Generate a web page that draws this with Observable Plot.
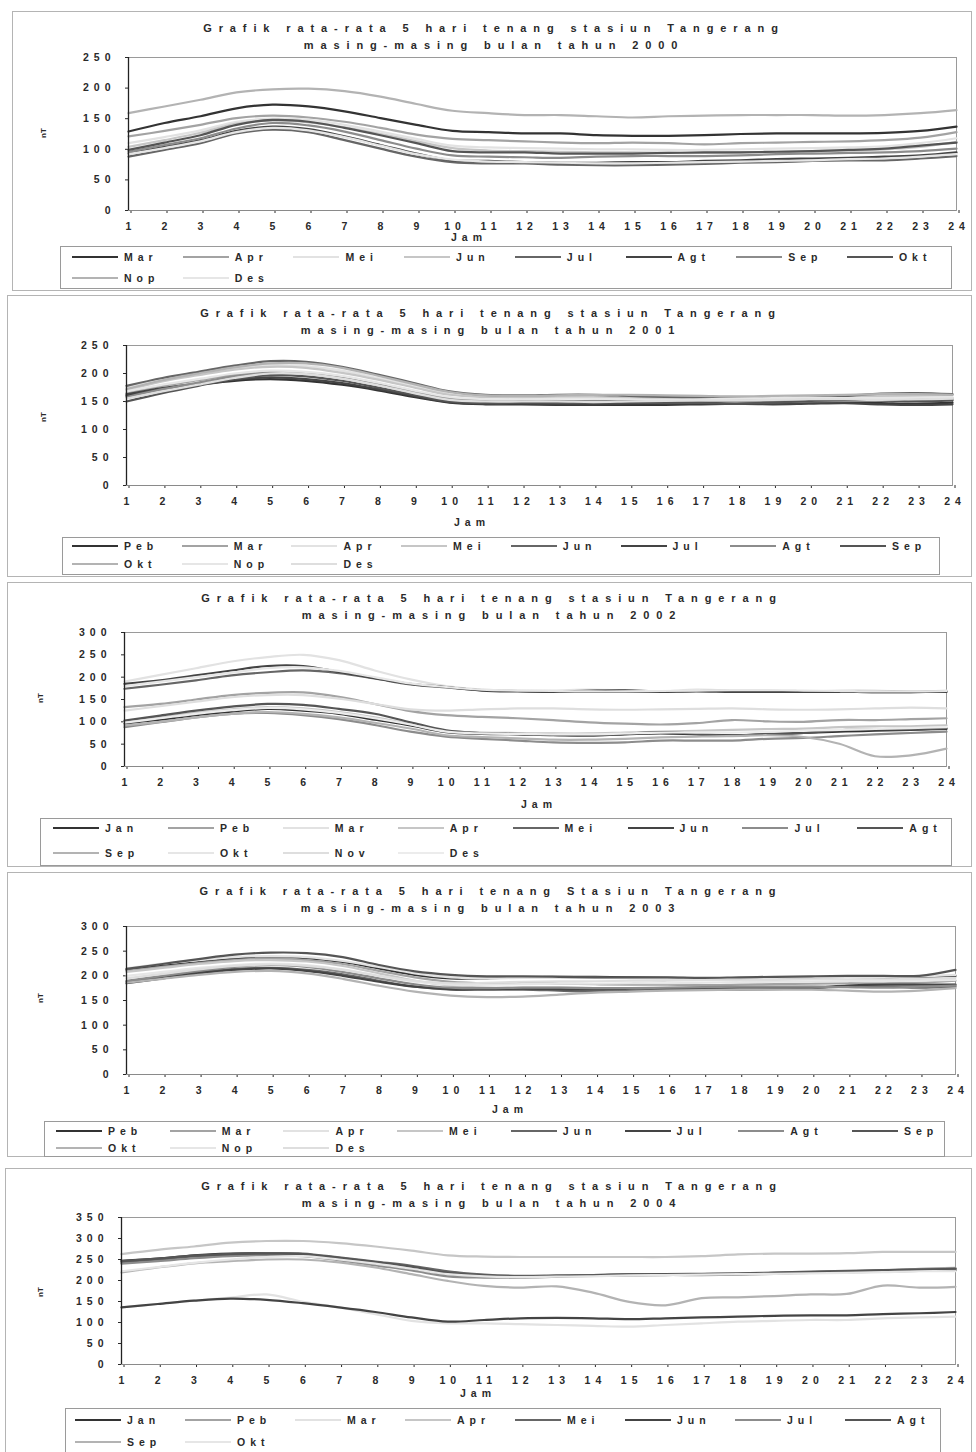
<!DOCTYPE html>
<html><head><meta charset="utf-8">
<script src="https://cdn.jsdelivr.net/npm/d3@7"></script>
<script src="https://cdn.jsdelivr.net/npm/@observablehq/plot@0.6"></script>
<style>
body{margin:0;background:#fff;}
#page{position:relative;width:976px;height:1452px;overflow:hidden;font-family:"Liberation Sans",Arial,sans-serif;color:#2a2a2a;}
.frame{position:absolute;border:1px solid #b4b4b4;box-sizing:border-box;}
.lbox{position:absolute;border:1px solid #9a9a9a;box-sizing:border-box;}
.title{position:absolute;font-weight:bold;font-size:11px;letter-spacing:6.9px;white-space:nowrap;transform:translateX(-50%);line-height:14px;}
.txt{position:absolute;font-weight:bold;font-size:10.5px;letter-spacing:5px;white-space:nowrap;line-height:14px;}
.nt{position:absolute;font-size:8px;font-weight:bold;transform:translate(-50%,-50%) rotate(-90deg);white-space:nowrap;}
.lline{position:absolute;height:2px;}
svg{position:absolute;left:0;}
</style>
</head><body><div id="page"></div>
<script>
const hours = [1,2,3,4,5,6,7,8,9,10,11,12,13,14,15,16,17,18,19,20,21,22,23,24];

// ---- 2000 ----
const months2000 = ["Mar","Apr","Mei","Jun","Jul","Agt","Sep","Okt","Nop","Des"];
const values2000 = [
 [129,143,154,167,173,170,162,151,140,130,128,126,126,123,122,122,123,125,126,126,126,127,130,137],
 [121,130,140,151,155,152,145,135,124,117,115,113,111,110,111,110,108,110,111,112,113,115,119,128],
 [110,120,131,145,150,148,140,129,117,106,103,102,101,100,100,99,99,100,101,102,103,105,110,118],
 [104,115,127,142,147,144,136,125,113,102,98,97,96,95,95,94,94,95,96,97,98,100,104,112],
 [88,99,110,126,132,128,115,101,88,79,77,77,75,74,74,75,76,78,79,81,82,82,85,89],
 [93,104,115,130,137,133,121,107,93,82,81,79,78,78,79,79,81,82,84,85,86,88,90,95],
 [96,107,118,134,143,139,129,115,101,90,88,87,86,88,89,89,89,90,92,93,94,95,97,101],
 [99,111,123,140,148,145,135,123,110,97,95,95,93,93,93,94,95,95,96,97,99,101,106,111],
 [159,170,181,193,198,199,195,186,174,163,159,156,156,154,152,154,155,156,156,156,155,156,159,164],
 [92,102,113,128,135,131,120,106,92,83,80,79,78,77,77,78,79,80,81,82,84,85,88,92]
];

// ---- 2001 ----
const months2001 = ["Peb","Mar","Apr","Mei","Jun","Jul","Agt","Sep","Okt","Nop","Des"];
const values2001 = [
 [160,172,180,187,190,187,180,170,158,148,145,145,144,144,144,144,145,146,147,148,148,147,146,148],
 [165,178,188,197,202,200,192,180,168,156,153,152,151,150,150,150,151,152,153,153,152,152,154,156],
 [175,190,200,210,215,213,205,192,178,165,160,158,157,157,156,156,156,157,158,159,160,160,160,162],
 [170,186,197,207,212,210,201,189,175,162,158,157,158,158,157,157,158,158,157,157,158,159,160,161],
 [178,192,203,214,222,221,212,198,183,168,162,161,162,162,160,158,157,156,156,158,160,164,165,163],
 [163,174,182,189,193,190,183,172,160,149,146,146,145,145,146,147,148,146,145,146,147,145,144,145],
 [158,172,184,195,202,200,192,180,166,154,150,150,150,151,152,152,152,150,149,150,151,152,152,153],
 [150,165,178,190,197,195,187,175,162,150,147,148,148,148,148,147,147,146,148,151,153,152,150,152],
 [172,188,200,211,218,218,210,196,181,167,161,160,161,162,162,161,160,159,160,161,162,163,163,162],
 [168,180,190,200,205,203,196,184,170,158,154,154,155,155,154,153,154,155,156,157,156,156,157,158],
 [155,168,180,192,200,199,191,179,165,153,150,150,150,149,150,151,152,152,153,154,154,153,154,155]
];

// ---- 2002 ----
const months2002 = ["Jan","Peb","Mar","Apr","Mei","Jun","Jul","Agt","Sep","Okt","Nov","Des"];
const values2002 = [
 [96,105,115,123,129,125,118,105,92,77,73,72,70,70,72,74,72,70,72,75,78,80,82,84],
 [133,140,150,160,165,166,156,140,124,115,111,108,104,99,96,94,97,104,101,100,104,104,106,108],
 [190,205,220,235,245,250,238,215,195,180,172,170,170,172,170,168,172,170,170,168,170,170,168,170],
 [100,110,120,128,133,130,122,110,95,80,76,75,74,74,76,78,80,82,84,85,88,90,90,92],
 [174,183,193,204,211,215,209,197,184,177,171,169,168,170,171,168,169,170,168,168,168,166,166,168],
 [185,193,204,215,225,225,212,198,185,178,170,168,167,167,167,167,168,167,167,167,167,167,167,167],
 [88,99,110,118,120,115,106,93,78,67,62,58,54,53,54,58,58,58,62,64,68,72,75,78],
 [103,114,125,134,140,138,129,118,99,81,75,73,71,69,73,77,73,69,73,75,81,83,83,86],
 [92,100,110,118,122,118,110,98,85,70,66,63,60,60,62,65,67,68,70,66,51,23,25,40],
 [180,190,200,210,220,222,214,200,186,178,172,170,169,168,168,169,170,171,171,170,169,168,168,169],
 [125,135,145,155,160,160,152,140,128,125,128,130,130,128,127,128,129,130,128,127,128,130,132,130],
 [98,108,118,126,131,128,120,108,94,78,74,73,72,72,74,76,76,76,78,80,82,84,86,88]
];

// ---- 2003 ----
const months2003 = ["Peb","Mar","Apr","Mei","Jun","Jul","Agt","Sep","Okt","Nop","Des"];
const values2003 = [
 [212,220,228,235,238,236,228,215,202,195,195,197,198,198,197,196,195,195,196,197,198,197,196,200],
 [210,218,226,232,235,232,224,210,197,188,185,185,184,183,182,182,181,182,183,184,185,185,186,190],
 [215,225,232,238,240,238,230,218,205,197,195,196,196,196,195,194,194,195,196,197,198,198,199,202],
 [208,216,224,230,232,229,220,205,190,180,176,176,176,175,175,175,175,176,177,178,178,178,179,182],
 [188,198,207,214,216,212,203,190,178,172,172,172,170,168,170,172,172,172,173,175,178,178,176,178],
 [185,195,205,212,215,210,200,188,178,173,173,174,173,172,174,175,175,176,176,176,180,182,182,182],
 [190,200,210,218,222,218,208,195,183,176,175,176,176,175,175,176,177,178,178,178,177,176,178,180],
 [214,224,234,243,247,246,238,222,209,202,199,199,198,197,197,197,196,197,198,199,200,200,200,212],
 [186,194,202,208,210,205,194,180,168,160,157,158,162,166,168,170,171,172,172,172,170,168,170,175],
 [200,208,216,222,225,222,213,200,188,182,182,183,184,184,185,185,186,187,188,188,189,189,190,192],
 [195,204,213,220,223,220,212,200,190,185,186,188,189,189,190,190,191,191,192,193,193,193,194,196]
];

// ---- 2004 ----
const months2004 = ["Jan","Peb","Mar","Apr","Mei","Jun","Jul","Agt","Sep","Okt"];
const values2004 = [
 [247,252,260,264,265,262,250,238,227,215,211,210,211,213,214,214,214,215,217,219,220,222,225,225],
 [242,248,256,261,263,262,252,242,232,220,213,210,210,212,213,214,215,216,218,220,221,224,228,230],
 [136,144,152,159,167,149,136,120,104,98,98,96,94,92,90,94,98,102,104,106,106,110,112,114],
 [263,273,281,290,294,294,289,281,271,260,257,256,256,256,256,256,258,262,264,264,265,268,268,268],
 [244,250,258,263,265,264,255,245,235,222,214,211,212,213,215,215,216,217,219,221,223,225,226,228],
 [136,144,152,157,154,146,136,125,112,102,106,110,111,110,108,110,112,114,116,117,117,120,122,125],
 [240,246,253,258,260,258,248,236,224,210,207,207,209,211,212,213,213,214,216,218,219,221,223,224],
 [246,252,259,263,264,263,254,244,233,218,212,209,210,212,214,215,215,216,218,220,222,224,226,228],
 [219,231,241,246,250,250,243,231,215,199,187,183,186,171,149,141,158,160,163,167,168,188,183,185],
 [222,232,242,250,256,258,250,240,228,215,210,208,209,210,212,213,214,215,216,217,218,220,222,222]
];

// Excel default series colours as they appear after greyscale scanning
const seriesGreys = ["#333333","#a3a3a3","#e2e2e2","#c6c6c6","#666666","#444444","#8c8c8c","#555555","#b3b3b3","#e6e6e6","#dedede","#ececec"];

const titleA = "Grafik rata-rata 5 hari tenang stasiun Tangerang";
const titleB = "Grafik rata-rata 5 hari tenang Stasiun Tangerang";

const panels = [
 {year:"2000", t:titleA, months:months2000, values:values2000, yMax:250,
  L:128, R:956, T:57, B:210, frame:[12,11,972,291], tx:494, ty:[28,45], jam:[463,237], nt:[43,133],
  lg:{box:[60,246,952,289], x0:72, pitch:110.7, rows:[257,278]}},
 {year:"2001", t:titleA, months:months2001, values:values2001, yMax:250,
  L:126, R:952, T:345, B:485, frame:[7,295,972,577], tx:491, ty:[313,330], jam:[466,522], nt:[43,417],
  lg:{box:[62,537,940,575], x0:72, pitch:109.7, rows:[546,564]}},
 {year:"2002", t:titleA, months:months2002, values:values2002, yMax:300,
  L:124, R:946, T:632, B:766, frame:[7,582,972,867], tx:492, ty:[598,615], jam:[533,804], nt:[40,698],
  lg:{box:[40,818,952,866], x0:53, pitch:114.9, rows:[828,853]}},
 {year:"2003", t:titleB, months:months2003, values:values2003, yMax:300,
  L:126, R:955, T:926, B:1074, frame:[7,872,972,1157], tx:491, ty:[891,908], jam:[504,1109], nt:[40,998],
  lg:{box:[44,1121,945,1157], x0:56, pitch:113.7, rows:[1131,1148]}},
 {year:"2004", t:titleA, months:months2004, values:values2004, yMax:350,
  L:121, R:955, T:1217, B:1364, frame:[5,1168,972,1460], tx:492, ty:[1186,1203], jam:[472,1393], nt:[40,1292],
  lg:{box:[65,1408,941,1460], x0:75, pitch:110, rows:[1420,1442]}}
];

const page = document.getElementById("page");
function el(cls, css, text){
  const d = document.createElement("div");
  d.className = cls;
  Object.assign(d.style, css);
  if (text != null) d.textContent = text;
  page.appendChild(d);
  return d;
}

for (const p of panels) {
  const [fx0,fy0,fx1,fy1] = p.frame;
  el("frame", {left:fx0+"px", top:fy0+"px", width:(fx1-fx0)+"px", height:(fy1-fy0)+"px"});
  el("title", {left:p.tx+"px", top:(p.ty[0]-7)+"px"}, p.t);
  el("title", {left:p.tx+"px", top:(p.ty[1]-7)+"px"}, "masing-masing bulan tahun " + p.year);

  const data = p.months.flatMap((m,i) => p.values[i].map((v,j) => ({jam: hours[j], nT: v, bulan: m})));
  const yTicks = d3.range(0, p.yMax + 1, 50);
  const mt = 6, mb = 30;
  const svg = Plot.plot({
    width: 976,
    height: mt + (p.B - p.T) + mb,
    marginTop: mt, marginBottom: mb, marginLeft: p.L, marginRight: 976 - p.R,
    style: {fontFamily: "'Liberation Sans', Arial, sans-serif", fontSize: "10.5px", fontWeight: "bold", letterSpacing: "5px", color: "#2a2a2a", background: "transparent", overflow: "visible"},
    x: {domain: [1, 24]},
    y: {domain: [0, p.yMax]},
    color: {domain: p.months, range: seriesGreys.slice(0, p.months.length)},
    marks: [
      Plot.frame({stroke: "#9a9a9a"}),
      Plot.axisX({ticks: hours, tickSize: 3, tickPadding: 9, tickFormat: d => String(d), label: null, dx: 2.5}),
      Plot.axisY({ticks: yTicks, tickSize: 3, tickPadding: 10, tickFormat: d => String(d), label: null}),
      Plot.lineY(data, {x: "jam", y: "nT", z: "bulan", stroke: "bulan", strokeWidth: 2.2, curve: "catmull-rom"}),
      Plot.ruleY([0], {stroke: "#8a8a8a", strokeWidth: 1.2}),
      Plot.ruleX([1], {stroke: "#222", strokeWidth: 1.3})
    ]
  });
  svg.style.top = (p.T - mt) + "px";
  page.appendChild(svg);

  el("txt", {left:(p.jam[0]-12)+"px", top:(p.jam[1]-7)+"px"}, "Jam");
  el("nt", {left:p.nt[0]+"px", top:p.nt[1]+"px"}, "nT");

  const [bx0,by0,bx1,by1] = p.lg.box;
  el("lbox", {left:bx0+"px", top:by0+"px", width:(bx1-bx0)+"px", height:(by1-by0)+"px"});
  p.months.forEach((m,i) => {
    const row = Math.floor(i / 8), col = i % 8;
    const x = p.lg.x0 + col * p.lg.pitch;
    const y = p.lg.rows[row];
    el("lline", {left:x+"px", top:(y-1)+"px", width:"46px", background: seriesGreys[i]});
    el("txt", {left:(x+52)+"px", top:(y-7)+"px"}, m);
  });
}
</script>
</body></html>
